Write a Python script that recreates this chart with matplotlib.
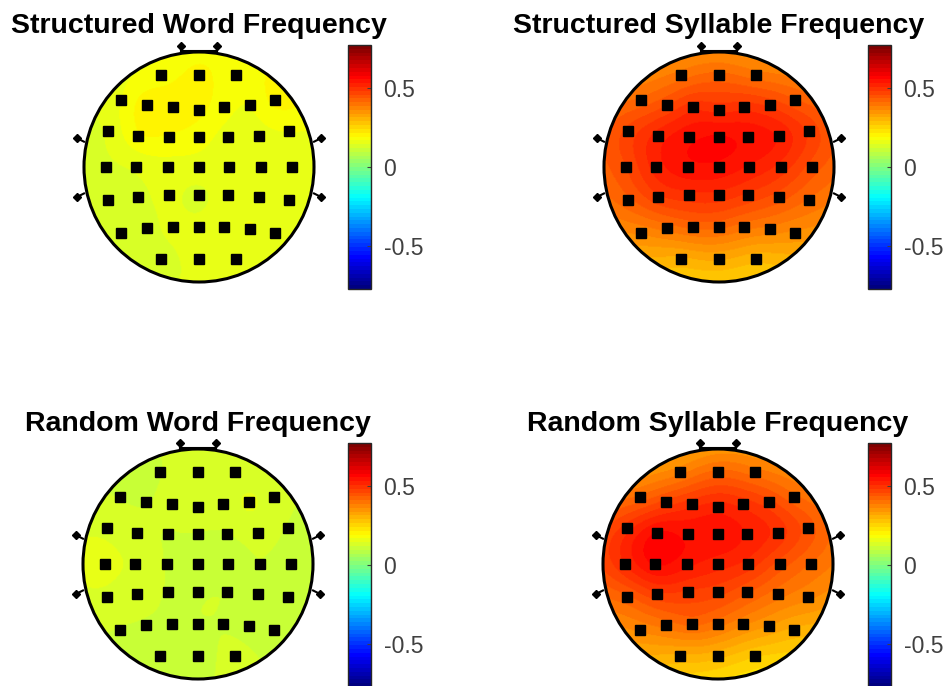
import numpy as np
import matplotlib.pyplot as plt
from matplotlib.patches import Circle
from matplotlib.colors import ListedColormap

plt.rcParams['font.family'] = ['Liberation Sans', 'DejaVu Sans']

# electrode layout (unit head radius), 7 rows front to back
elec_x = [-0.33, 0.0, 0.32,
          -0.675, -0.45, -0.23, 0.0, 0.22, 0.44, 0.66,
          -0.79, -0.53, -0.26, 0.0, 0.25, 0.52, 0.78,
          -0.81, -0.55, -0.27, 0.0, 0.26, 0.54, 0.81,
          -0.79, -0.53, -0.26, 0.0, 0.25, 0.52, 0.78,
          -0.675, -0.45, -0.23, 0.0, 0.22, 0.44, 0.66,
          -0.33, 0.0, 0.32]
elec_y = [0.80, 0.80, 0.80,
          0.58, 0.54, 0.52, 0.50, 0.52, 0.54, 0.58,
          0.31, 0.27, 0.26, 0.26, 0.26, 0.27, 0.31,
          0.0, 0.0, 0.0, 0.0, 0.0, 0.0, 0.0,
          -0.29, -0.26, -0.245, -0.245, -0.245, -0.26, -0.29,
          -0.57, -0.53, -0.52, -0.52, -0.52, -0.54, -0.57,
          -0.80, -0.80, -0.80]

struct_word = [0.18, 0.20, 0.18,
               0.17, 0.21, 0.21, 0.20, 0.18, 0.17, 0.20,
               0.15, 0.19, 0.19, 0.18, 0.16, 0.16, 0.17,
               0.14, 0.15, 0.16, 0.16, 0.16, 0.16, 0.15,
               0.13, 0.14, 0.15, 0.14, 0.16, 0.16, 0.16,
               0.14, 0.14, 0.15, 0.15, 0.16, 0.17, 0.16,
               0.14, 0.15, 0.15]
struct_syll = [0.40, 0.42, 0.40,
               0.42, 0.46, 0.50, 0.50, 0.50, 0.48, 0.44,
               0.47, 0.52, 0.55, 0.56, 0.55, 0.53, 0.48,
               0.46, 0.52, 0.55, 0.55, 0.53, 0.50, 0.45,
               0.43, 0.48, 0.50, 0.50, 0.48, 0.45, 0.41,
               0.37, 0.40, 0.42, 0.42, 0.40, 0.38, 0.36,
               0.31, 0.32, 0.30]
rand_word = [0.12, 0.14, 0.13,
             0.12, 0.12, 0.13, 0.14, 0.13, 0.15, 0.13,
             0.14, 0.13, 0.12, 0.12, 0.12, 0.13, 0.12,
             0.15, 0.14, 0.12, 0.12, 0.11, 0.12, 0.11,
             0.14, 0.13, 0.12, 0.12, 0.12, 0.11, 0.10,
             0.12, 0.12, 0.12, 0.12, 0.12, 0.11, 0.10,
             0.12, 0.11, 0.13]
rand_syll = [0.38, 0.42, 0.40,
             0.42, 0.47, 0.50, 0.52, 0.50, 0.47, 0.42,
             0.50, 0.56, 0.55, 0.55, 0.53, 0.50, 0.45,
             0.51, 0.56, 0.54, 0.52, 0.50, 0.45, 0.41,
             0.43, 0.48, 0.48, 0.47, 0.44, 0.40, 0.37,
             0.37, 0.40, 0.42, 0.40, 0.37, 0.34, 0.31,
             0.31, 0.30, 0.27]

titles = ['Structured Word Frequency', 'Structured Syllable Frequency',
          'Random Word Frequency', 'Random Syllable Frequency']
maps = [struct_word, struct_syll, rand_word, rand_syll]
clim = 0.775

# MATLAB style jet with 64 entries
t = np.linspace(0, 1, 64)
jet64 = ListedColormap(np.clip(np.stack([1.5 - np.abs(4 * t - 3),
                                         1.5 - np.abs(4 * t - 2),
                                         1.5 - np.abs(4 * t - 1)], axis=1), 0, 1))

W, H = 947, 686
fig = plt.figure(figsize=(W / 100, H / 100), dpi=100)


def px(x, y, w, h):
    return [x / W, 1 - (y + h) / H, w / W, h / H]


def v4(xe, ye, ze, xg, yg):
    # biharmonic spline interpolation (like griddata 'v4')
    xe, ye = np.asarray(xe), np.asarray(ye)
    d = np.hypot(xe[:, None] - xe[None, :], ye[:, None] - ye[None, :])
    with np.errstate(divide='ignore', invalid='ignore'):
        g = np.where(d > 0, d ** 2 * (np.log(d) - 1), 0)
    w = np.linalg.solve(g, np.asarray(ze))
    dg = np.hypot(xg[..., None] - xe, yg[..., None] - ye)
    with np.errstate(divide='ignore', invalid='ignore'):
        gg = np.where(dg > 0, dg ** 2 * (np.log(dg) - 1), 0)
    return gg @ w


gx, gy = np.meshgrid(np.linspace(-1, 1, 241), np.linspace(-1, 1, 241))

centers = [(199, 167), (719, 167), (198, 564), (718, 564)]
cbar_pos = [(348, 45), (868, 45), (348, 443), (868, 443)]
title_y = [33, 33, 431, 431]
R = 115
half = 1.25 * R

for i in range(4):
    cx, cy = centers[i]
    ax = fig.add_axes(px(cx - half, cy - half, 2 * half, 2 * half))
    ax.set_xlim(-1.25, 1.25)
    ax.set_ylim(-1.25, 1.25)
    ax.set_aspect('equal')
    ax.axis('off')

    z = v4(elec_x, elec_y, maps[i], gx, gy)
    im = ax.imshow(z, extent=[-1, 1, -1, 1], origin='lower', cmap=jet64,
                   vmin=-clim, vmax=clim, interpolation='bilinear')
    head = Circle((0, 0), 1, transform=ax.transData)
    im.set_clip_path(head)
    ax.add_patch(Circle((0, 0), 1, fill=False, ec='k', lw=2.2))

    # nose
    ax.plot([-0.16, 0.16], [1.01, 1.01], 'k', lw=1.5)
    for s in (-1, 1):
        ax.plot([s * 0.16, s * 0.16], [1.0, 1.05], 'k', lw=1.5)
        ax.plot(s * 0.16, 1.05, 'kD', ms=4)
    # ears
    for s in (-1, 1):
        for ey in (0.25, -0.26):
            ax.plot([s * 1.0, s * 1.06], [ey - 0.03 * np.sign(ey), ey], 'k', lw=1.5)
            ax.plot(s * 1.06, ey, 'kD', ms=4)

    ax.plot(elec_x, elec_y, 'ks', ms=7)

    fig.text(cx / W, 1 - title_y[i] / H, titles[i], ha='center', va='baseline',
             fontsize=20.5, fontweight='bold')

    bx, by = cbar_pos[i]
    cax = fig.add_axes(px(bx, by, 23, 244))
    cb = fig.colorbar(im, cax=cax, ticks=[-0.5, 0, 0.5])
    cb.set_ticklabels(['-0.5', '0', '0.5'])
    cb.ax.tick_params(direction='in', length=3, width=0.8, pad=9,
                      labelsize=16.5, colors='#404040')
    cb.outline.set_edgecolor('#262626')
    cb.outline.set_linewidth(1)

fig.savefig('out.png', dpi=100)
